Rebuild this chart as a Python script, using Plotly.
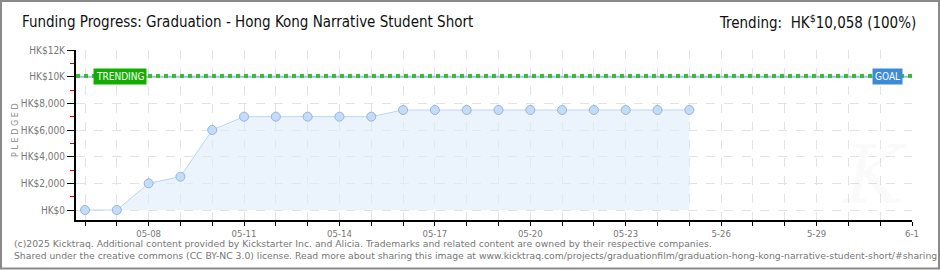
import plotly.graph_objects as go
import pandas as pd

# ---- data ----
dates = pd.date_range("2025-05-06", "2025-05-25", freq="D")
pledged = [0, 0, 2000, 2500, 6000, 7000, 7000, 7000, 7000, 7000,
           7500, 7500, 7500, 7500, 7500, 7500, 7500, 7500, 7500, 7500]
goal = 10000
trending = 10058

y_tickvals = [0, 2000, 4000, 6000, 8000, 10000, 12000]
y_ticktext = ["HK$0", "HK$2,000", "HK$4,000", "HK$6,000", "HK$8,000", "HK$10K", "HK$12K"]
y_minor = [1000, 3000, 5000, 7000, 9000, 11000]

x_days = pd.date_range("2025-05-06", "2025-06-01", freq="D")
x_labels = {"2025-05-08": "05-08", "2025-05-11": "05-11", "2025-05-14": "05-14",
            "2025-05-17": "05-17", "2025-05-20": "05-20", "2025-05-23": "05-23",
            "2025-05-26": "5-26", "2025-05-29": "5-29", "2025-06-01": "6-1"}
x_ticktext = [x_labels.get(d.strftime("%Y-%m-%d"), " ") for d in x_days]

title_text = "Funding Progress: Graduation - Hong Kong Narrative Student Short"
trend_text = "Trending:  HK<sup>$</sup>10,058 (100%)"
footer1 = "(c)2025 Kicktraq. Additional content provided by Kickstarter Inc. and Alicia. Trademarks and related content are owned by their respective companies."
footer2 = "Shared under the creative commons (CC BY-NC 3.0) license. Read more about sharing this image at www.kicktraq.com/projects/graduationfilm/graduation-hong-kong-narrative-student-short/#sharing"

# ---- layout geometry ----
W, H = 940, 270
L, R, T, B = 76, 912, 50, 220


def px(x):
    return (x - L) / (R - L)


def py(y):
    return (B - y) / (B - T)


x_start = pd.Timestamp("2025-05-06") - pd.Timedelta(hours=24 * 9 / ((R - L - 9) / 26))
x_end = pd.Timestamp("2025-06-01")

TICKFONT = dict(family="DejaVu Sans Condensed, sans-serif", size=10, color="#777")

fig = go.Figure()

# goal line (blue) under trending line (green)
fig.add_trace(go.Scatter(x=[x_start, x_end], y=[goal, goal], mode="lines",
                         line=dict(color="rgba(90,150,220,0.55)", width=2), hoverinfo="skip",
                         showlegend=False))
fig.add_trace(go.Scatter(x=[x_start, x_end], y=[trending, trending], mode="lines",
                         line=dict(color="#3cba3c", width=4, dash="4px,4px"),
                         hoverinfo="skip", showlegend=False))

fig.add_trace(go.Scatter(x=dates, y=pledged, mode="lines+markers", fill="tozeroy",
                         fillcolor="rgba(222,236,252,0.6)",
                         line=dict(color="#bcd6f2", width=1),
                         marker=dict(size=9, color="#c4dcf8",
                                     line=dict(color="#95b5da", width=1)),
                         showlegend=False))

fig.update_xaxes(range=[x_start, x_end], tickvals=list(x_days), ticktext=x_ticktext,
                 ticks="outside", ticklen=4, tickcolor="#000", tickwidth=1,
                 showline=True, linecolor="#000", linewidth=2,
                 showgrid=True, gridcolor="#e3e3e3", griddash="dash", gridwidth=1,
                 tickfont=dict(family="DejaVu Sans Condensed, sans-serif", size=9.5, color="#777"),
                 zeroline=False, tickangle=0)
fig.update_yaxes(range=[-750, 12000], tickvals=y_tickvals, ticktext=y_ticktext,
                 ticks="outside", ticklen=7, tickcolor="#000", tickwidth=1,
                 showline=True, linecolor="#000", linewidth=2,
                 showgrid=True, gridcolor="#e3e3e3", griddash="dash", gridwidth=1,
                 minor=dict(tickvals=y_minor,
                            ticks="outside", ticklen=4, tickcolor="#e00000", showgrid=False),
                 tickfont=TICKFONT, zeroline=False)

annotations = [
    dict(x=px(20), y=py(22), xref="paper", yref="paper", xanchor="left", yanchor="middle",
         text=title_text, showarrow=False,
         font=dict(family="DejaVu Sans Condensed, sans-serif", size=15, color="#111")),
    dict(x=px(918), y=py(22), xref="paper", yref="paper", xanchor="right", yanchor="middle",
         text=trend_text, showarrow=False,
         font=dict(family="DejaVu Sans Condensed, sans-serif", size=15, color="#111")),
    dict(x=px(12), y=py(243), xref="paper", yref="paper", xanchor="left", yanchor="middle",
         text=footer1, showarrow=False,
         font=dict(family="DejaVu Sans, sans-serif", size=9.25, color="#777")),
    dict(x=px(12), y=py(256), xref="paper", yref="paper", xanchor="left", yanchor="middle",
         text=footer2, showarrow=False,
         font=dict(family="DejaVu Sans, sans-serif", size=9.25, color="#777")),
    dict(x=px(15), y=py(130), xref="paper", yref="paper", xanchor="center", yanchor="middle",
         text="P L E D G E D", textangle=-90, showarrow=False,
         font=dict(family="DejaVu Sans Condensed, sans-serif", size=9, color="#888")),
    dict(x=px(120), y=py(76), xref="paper", yref="paper", xanchor="center", yanchor="middle",
         text="TRENDING", showarrow=False, bgcolor="#12ad00", borderpad=2,
         font=dict(family="DejaVu Sans Condensed, sans-serif", size=10, color="#fff")),
    dict(x=px(887), y=py(76), xref="paper", yref="paper", xanchor="center", yanchor="middle",
         text="GOAL", showarrow=False, bgcolor="#3d8ad8", borderpad=2,
         font=dict(family="DejaVu Sans Condensed, sans-serif", size=10, color="#fff")),
    dict(x=px(875), y=py(175), xref="paper", yref="paper", xanchor="center", yanchor="middle",
         text="<i>K</i>", showarrow=False,
         font=dict(family="DejaVu Serif, serif", size=80, color="rgba(0,0,0,0.02)")),
]

shapes = [
    dict(type="rect", xref="paper", yref="paper",
         x0=px(1), x1=px(939), y0=py(268.5), y1=py(1),
         line=dict(color="#8a8a8a", width=2), fillcolor="rgba(0,0,0,0)", layer="above"),
]

fig.update_layout(width=W, height=H, margin=dict(l=L, r=W - R, t=T, b=H - B),
                  paper_bgcolor="#fff", plot_bgcolor="#fff",
                  annotations=annotations, shapes=shapes, showlegend=False)

fig.write_html("out.html")
